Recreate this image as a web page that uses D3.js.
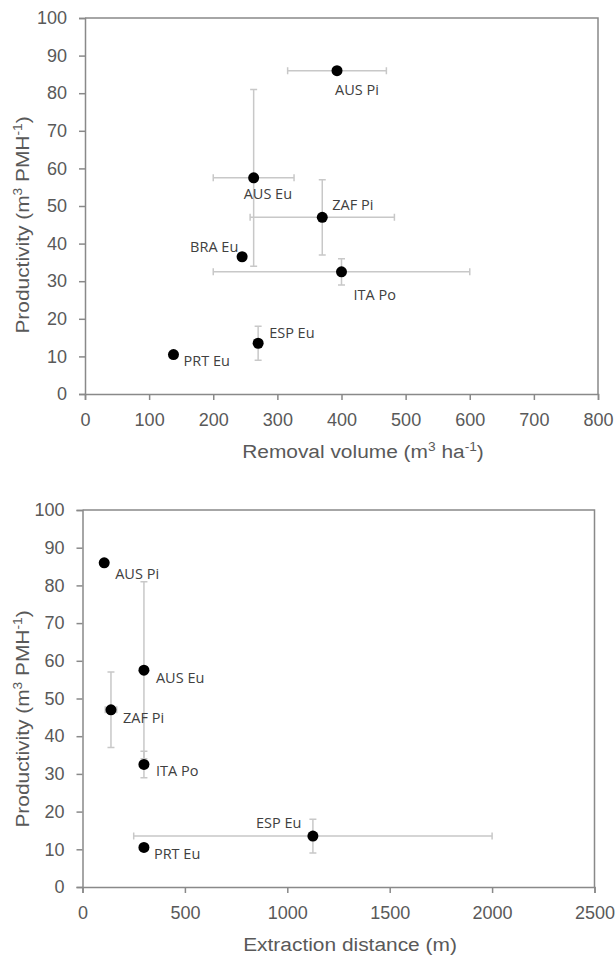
<!DOCTYPE html>
<html>
<head>
<meta charset="utf-8">
<script src="https://cdn.jsdelivr.net/npm/d3@7/dist/d3.min.js"></script>
<style>
  html, body { margin: 0; padding: 0; background: #fff; }
  svg { display: block; }
  .tick text { font-family: "Liberation Sans", Arial, sans-serif; font-size: 18px; fill: #595959; }
  .axis-title { font-family: "Liberation Sans", Arial, sans-serif; font-size: 19px; fill: #595959; }
  .pt-label { font-family: "Open Sans", sans-serif; font-size: 14.5px; fill: #404040; }
</style>
</head>
<body>
<svg id="chart" width="615" height="958"></svg>
<script>
// Harvest sites (country + species group)
const sites = ["AUS Pi", "AUS Eu", "ZAF Pi", "BRA Eu", "ITA Po", "ESP Eu", "PRT Eu"];

// Productivity (m3 PMH-1) and its error range
const productivity    = [86, 57.5, 47, 36.5, 32.5, 13.5, 10.5];
const productivityErr = [null, 23.5, 10, null, 3.5, 4.5, null];

// Removal volume (m3 ha-1) and its error range
const removalVolume    = [393, 263, 370, 245, 400, 270, 138];
const removalVolumeErr = [77, 63, 112.5, null, 200, null, null];

// Extraction distance (m) and its error range (not reported for BRA Eu)
const extractionDistance    = [106, 300, 139, null, 300, 1125, 300];
const extractionDistanceErr = [null, null, 28, null, null, 875, null];

// Axis ticks
const yTicks       = [0, 10, 20, 30, 40, 50, 60, 70, 80, 90, 100];
const xTicksTop    = [0, 100, 200, 300, 400, 500, 600, 700, 800];
const xTicksBottom = [0, 500, 1000, 1500, 2000, 2500];

// Label placement relative to each point: [dx, dy] for start-anchored text
const labelOffsetTop = {
  "AUS Pi": [-2, 24], "AUS Eu": [-10, 21], "ZAF Pi": [10, -7], "BRA Eu": [-52, -5],
  "ITA Po": [12, 28], "ESP Eu": [11, -5], "PRT Eu": [10, 11]
};
const labelOffsetBottom = {
  "AUS Pi": [11, 16], "AUS Eu": [12, 13], "ZAF Pi": [12, 13], "ITA Po": [12, 12],
  "ESP Eu": [-57, -8], "PRT Eu": [10, 12]
};

const svg = d3.select("#chart");
const AXIS = "#898989", ERR = "#c8c8c8";
const TITLE_STRETCH = 1.1;

function addTitleParts(text, parts) {
  parts.forEach(([t, sup]) => {
    const ts = text.append("tspan").text(t);
    if (sup) ts.attr("font-size", "12.5px").attr("baseline-shift", "super");
  });
}

function panel(opts) {
  const { left, right, top, bottom, xDomain, xTicks, xVals, xErr, title, labelOffset,
          xTitleX, yTitleY } = opts;
  const x = d3.scaleLinear().domain(xDomain).range([left, right]);
  const y = d3.scaleLinear().domain([0, 100]).range([bottom, top]);
  const g = svg.append("g");

  // frame: top and right edges
  g.append("path")
    .attr("d", `M${left},${top}H${right}V${bottom}`)
    .attr("fill", "none").attr("stroke", AXIS).attr("stroke-width", 1.5);

  const xAxis = g.append("g").attr("transform", `translate(0,${bottom})`)
    .call(d3.axisBottom(x).tickValues(xTicks).tickSize(6).tickPadding(13).tickFormat(d3.format("d")));
  const yAxis = g.append("g").attr("transform", `translate(${left},0)`)
    .call(d3.axisLeft(y).tickValues(yTicks).tickSize(6).tickPadding(12).tickFormat(d3.format("d")));
  [xAxis, yAxis].forEach(a => {
    a.select(".domain").attr("stroke", AXIS).attr("stroke-width", 1.5);
    a.selectAll(".tick line").attr("stroke", AXIS).attr("stroke-width", 1.5);
  });
  xAxis.selectAll(".tick text").attr("dy", "0.71em");

  const pts = sites.map((s, i) => ({
    s, x: xVals[i], xe: xErr[i], y: productivity[i], ye: productivityErr[i]
  })).filter(d => d.x != null);

  const eb = g.append("g").attr("stroke", ERR).attr("stroke-width", 1.5).attr("fill", "none");
  const cap = 3.5;
  pts.forEach(d => {
    if (d.ye != null) {
      const y0 = y(d.y - d.ye), y1 = y(d.y + d.ye), cx = x(d.x);
      eb.append("path").attr("d",
        `M${cx},${y0}V${y1}M${cx - cap},${y0}H${cx + cap}M${cx - cap},${y1}H${cx + cap}`);
    }
    if (d.xe != null) {
      const x0 = x(d.x - d.xe), x1 = x(d.x + d.xe), cy = y(d.y);
      eb.append("path").attr("d",
        `M${x0},${cy}H${x1}M${x0},${cy - cap}V${cy + cap}M${x1},${cy - cap}V${cy + cap}`);
    }
  });

  g.selectAll("circle.pt").data(pts).join("circle")
    .attr("class", "pt").attr("cx", d => x(d.x)).attr("cy", d => y(d.y))
    .attr("r", 5.5).attr("fill", "#000");

  g.selectAll("text.pt-label").data(pts).join("text")
    .attr("class", "pt-label")
    .attr("x", d => x(d.x) + labelOffset[d.s][0])
    .attr("y", d => y(d.y) + labelOffset[d.s][1])
    .text(d => d.s);

  // x axis title
  const xt = g.append("text").attr("class", "axis-title")
    .attr("transform", `translate(${xTitleX},${bottom + 64}) scale(${TITLE_STRETCH},1)`)
    .attr("text-anchor", "middle");
  addTitleParts(xt, title);

  // y axis title
  const yt = g.append("text").attr("class", "axis-title")
    .attr("transform", `translate(29,${yTitleY}) rotate(-90) scale(${TITLE_STRETCH},1)`)
    .attr("text-anchor", "middle");
  addTitleParts(yt, [["Productivity (m"], ["3", true], [" PMH"], ["-1", true], [")"]]);
}

panel({
  left: 85, right: 598, top: 18, bottom: 394,
  xDomain: [0, 800], xTicks: xTicksTop,
  xVals: removalVolume, xErr: removalVolumeErr,
  title: [["Removal volume (m"], ["3", true], [" ha"], ["-1", true], [")"]],
  labelOffset: labelOffsetTop, xTitleX: 363, yTitleY: 225
});

panel({
  left: 82.5, right: 594.5, top: 510, bottom: 887,
  xDomain: [0, 2500], xTicks: xTicksBottom,
  xVals: extractionDistance, xErr: extractionDistanceErr,
  title: [["Extraction distance (m)"]],
  labelOffset: labelOffsetBottom, xTitleX: 350, yTitleY: 719
});
</script>
</body>
</html>
